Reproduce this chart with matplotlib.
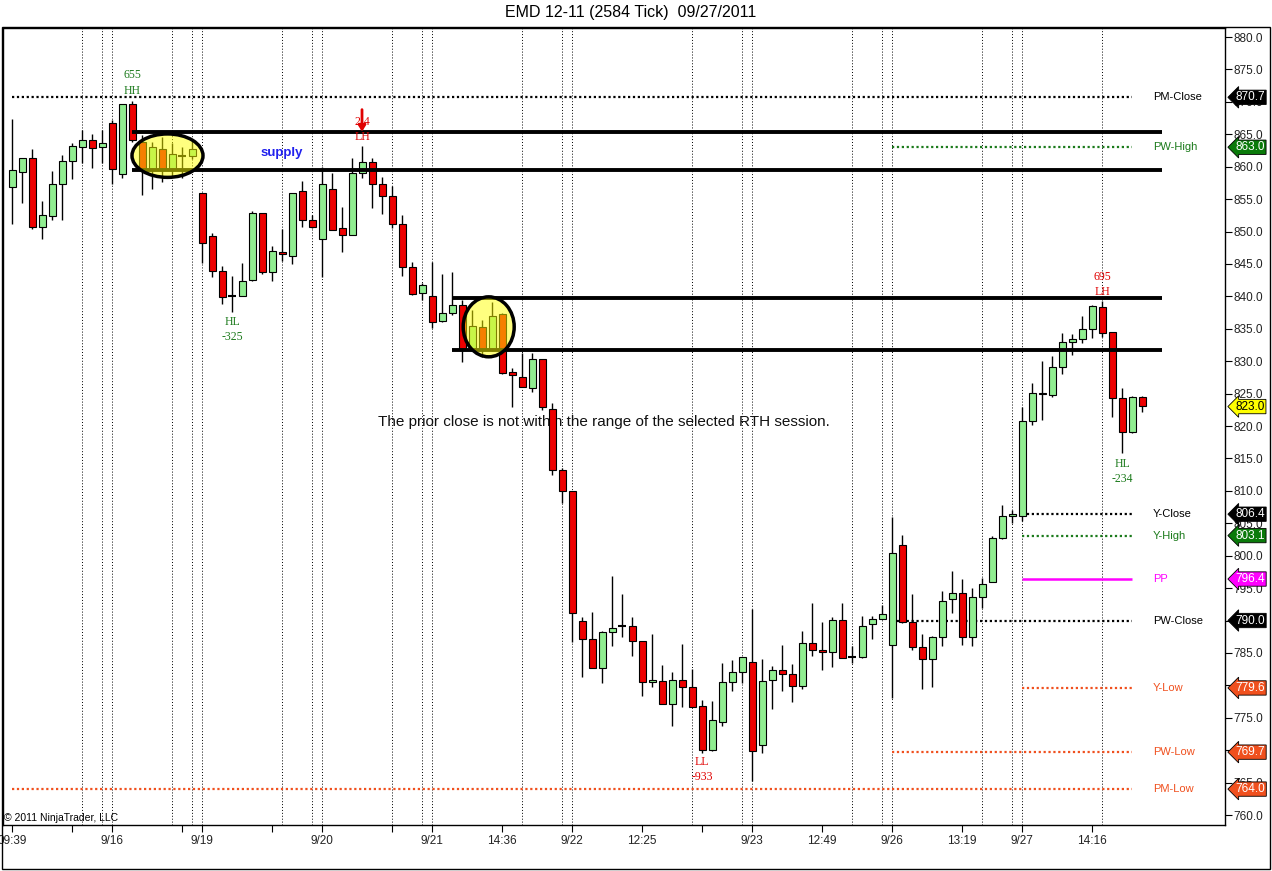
import matplotlib.pyplot as plt
import numpy as np
import matplotlib.transforms as mtransforms
from matplotlib.patches import Ellipse, Rectangle

plt.rcParams['font.family'] = ['Liberation Sans', 'DejaVu Sans']

# OHLC per bar (2584 tick bars, EMD 12-11)
opens = [856.8, 859.2, 861.4, 850.7, 852.4, 857.3, 860.8, 863.1, 864.1, 863.1,
         866.8, 858.8, 869.6, 863.8, 859.5, 862.8, 859.5, 861.6, 861.7, 856.0,
         849.3, 843.9, 840.0, 840.1, 842.5, 852.8, 843.8, 846.8, 846.3, 856.2,
         851.8, 848.8, 856.5, 850.5, 849.4, 859.1, 860.7, 857.4, 855.5, 851.1,
         844.6, 840.5, 840.0, 836.2, 837.4, 838.6, 831.7, 835.3, 831.7, 837.2,
         828.3, 827.5, 825.8, 830.3, 822.7, 813.2, 810.0, 790.0, 787.1, 782.7,
         788.2, 789.0, 789.2, 786.9, 780.5, 780.7, 777.2, 780.9, 779.7, 776.8,
         770.1, 774.4, 780.5, 782.0, 783.6, 770.8, 780.8, 782.3, 781.7, 779.9,
         786.6, 785.4, 785.1, 790.1, 784.2, 784.3, 789.4, 790.3, 786.3, 801.6,
         789.7, 785.9, 784.0, 787.4, 793.3, 794.2, 787.5, 793.7, 796.0, 802.7,
         806.1, 806.1, 820.8, 825.1, 824.8, 829.05, 832.9, 833.4, 834.9, 838.3,
         834.5, 824.3, 819.0, 824.5]
highs = [867.3, 861.3, 862.7, 854.7, 859.3, 861.8, 863.6, 865.6, 865.0, 865.7,
         867.2, 869.6, 870.2, 864.9, 863.8, 864.6, 863.6, 863.0, 864.0, 856.0,
         849.8, 844.7, 843.1, 845.1, 853.1, 852.8, 847.8, 850.4, 856.0, 857.8,
         852.5, 860.0, 859.1, 853.8, 861.3, 863.2, 861.4, 858.4, 857.0, 852.5,
         845.3, 842.0, 845.3, 843.4, 843.7, 839.4, 837.9, 836.3, 839.2, 837.5,
         828.9, 831.2, 831.2, 830.3, 823.5, 813.5, 810.0, 790.5, 791.3, 788.4,
         796.9, 794.1, 790.6, 786.9, 787.9, 783.1, 782.0, 786.4, 782.5, 777.8,
         777.6, 783.4, 783.9, 784.3, 791.7, 784.0, 783.0, 786.2, 783.3, 788.4,
         792.7, 789.7, 790.6, 792.7, 786.1, 790.7, 790.7, 792.4, 806.0, 803.2,
         794.1, 787.9, 787.6, 794.5, 797.6, 796.4, 795.0, 796.6, 803.0, 807.8,
         807.0, 823.0, 826.7, 830.0, 830.8, 834.4, 834.2, 837.0, 838.7, 839.3,
         834.5, 825.8, 824.6, 824.6]
lows = [851.1, 854.4, 850.4, 848.9, 851.7, 851.7, 858.1, 860.5, 859.8, 860.5,
        857.4, 858.3, 863.8, 855.6, 856.6, 857.7, 858.5, 858.2, 861.2, 845.1,
        843.0, 838.8, 837.6, 840.0, 842.3, 843.5, 842.3, 845.4, 845.0, 850.7,
        850.5, 843.0, 850.3, 846.9, 849.4, 858.2, 853.7, 852.7, 850.5, 843.1,
        840.2, 839.4, 835.1, 836.1, 837.1, 829.9, 831.5, 830.7, 831.5, 828.0,
        823.0, 826.0, 825.3, 822.5, 812.4, 808.1, 786.7, 781.3, 782.6, 780.3,
        786.1, 787.5, 784.6, 778.3, 779.8, 777.2, 773.8, 776.7, 776.7, 769.6,
        769.8, 773.7, 779.2, 780.3, 765.2, 769.6, 776.3, 779.2, 777.5, 779.4,
        784.6, 782.3, 782.9, 784.2, 783.4, 784.2, 787.1, 790.3, 778.1, 789.6,
        785.5, 779.5, 779.8, 786.1, 791.1, 786.3, 786.1, 792.0, 795.9, 802.5,
        805.0, 805.4, 820.1, 821.0, 824.5, 828.0, 830.9, 832.8, 833.5, 833.7,
        821.4, 815.8, 818.9, 822.2]
closes = [859.5, 861.3, 850.7, 852.5, 857.4, 860.8, 863.2, 864.1, 862.9, 863.6,
          859.7, 869.6, 864.1, 859.5, 863.0, 859.5, 861.9, 861.7, 862.8, 848.3,
          843.9, 839.9, 840.1, 842.4, 852.8, 843.8, 847.0, 846.5, 856.0, 851.7,
          850.7, 857.3, 850.3, 849.4, 859.1, 860.7, 857.4, 855.5, 851.1, 844.6,
          840.4, 841.7, 836.0, 837.4, 838.6, 831.7, 835.5, 831.7, 836.9, 828.1,
          827.8, 826.0, 830.3, 822.9, 813.2, 809.9, 791.1, 787.1, 782.7, 788.2,
          788.9, 789.1, 786.9, 780.5, 780.8, 777.2, 780.9, 779.7, 776.7, 770.1,
          774.7, 780.5, 782.0, 784.3, 769.8, 780.6, 782.3, 781.8, 779.9, 786.6,
          785.5, 785.1, 790.1, 784.2, 784.3, 789.2, 790.3, 791.0, 800.4, 789.7,
          785.9, 784.0, 787.4, 793.0, 794.2, 787.5, 793.7, 795.7, 802.7, 806.1,
          806.4, 820.8, 825.1, 824.9, 829.05, 832.9, 833.4, 834.9, 838.5, 834.3,
          824.3, 819.0, 824.5, 823.1]

# x axis
tick_bars = [0, 6, 10, 17, 19, 26, 31, 38, 42, 49, 56, 63, 69, 74, 81, 88, 95, 101, 108]
tick_labels = ['09:39', '', '9/16', '', '9/19', '', '9/20', '', '9/21', '14:36', '9/22',
               '12:25', '', '9/23', '12:49', '9/26', '13:19', '9/27', '14:16']
session_bars = [7, 9, 10, 16, 18, 19, 27, 30, 31, 38, 41, 42, 51, 55, 56,
                68, 73, 74, 84, 87, 88, 97, 100, 101, 109]

# pivot levels
level_names = ['PM-Close', 'PW-High', 'Y-Close', 'Y-High', 'PP', 'PW-Close', 'Y-Low', 'PW-Low', 'PM-Low']
level_values = [870.7, 863.0, 806.4, 803.1, 796.4, 790.0, 779.6, 769.7, 764.0]
level_start = [0, 88, 101, 101, 101, 88, 101, 88, 0]
level_colors = ['black', '#1b7a1b', 'black', '#1b7a1b', '#ff00ff', 'black', '#f0501e', '#f0501e', '#f0501e']

# supply / resistance zones (drawn lines)
zone_levels = [865.35, 859.5, 839.7, 831.7]
zone_start = [12, 12, 44, 44]

# swing labels
swing_text = ['655\nHH', '2 4\nLH', 'HL\n-325', 'LL\n-933', '695\nLH', 'HL\n-234']
swing_bar = [12, 35, 22, 69, 109, 111]
swing_price = [872.9, 865.7, 834.9, 767.0, 841.8, 813.0]
swing_color = ['#1b7a1b', '#e00000', '#1b7a1b', '#e00000', '#e00000', '#1b7a1b']

last_price = 823.0

fig = plt.figure(figsize=(12.72, 8.71), dpi=100)
ax = fig.add_axes([3 / 1272, 46 / 871, 1222 / 1272, 797 / 871])

x = np.arange(len(opens))
o = np.array(opens); h = np.array(highs); l = np.array(lows); c = np.array(closes)

# session separators
for b in session_bars:
    ax.axvline(b, color='black', lw=0.7, ls=(0, (1, 2)), zorder=1)

# wicks
ax.vlines(x, l, h, color='black', lw=1, zorder=3)
# bodies
up = c - o > 0.15
dn = o - c > 0.15
doji = ~(up | dn)
ax.bar(x[up], (c - o)[up], bottom=o[up], width=0.7, color='#90ee90', edgecolor='black', lw=0.8, zorder=4)
ax.bar(x[dn], (o - c)[dn], bottom=c[dn], width=0.7, color='#ee0000', edgecolor='black', lw=0.8, zorder=4)
ax.hlines(c[doji], x[doji] - 0.4, x[doji] + 0.4, color='black', lw=1.5, zorder=4)

# zones
for lev, s in zip(zone_levels, zone_start):
    ax.hlines(lev, s, 115, color='black', lw=2.8, zorder=5)

# pivot levels
for name, val, s, col in zip(level_names, level_values, level_start, level_colors):
    if name == 'PP':
        ax.hlines(val, s, 112, color=col, lw=1.8, zorder=2)
    else:
        ax.hlines(val, s, 112, color=col, lw=1.6, ls=(0, (1, 1.2)), zorder=2)
    ax.text(114.1, val, name, color=col, fontsize=8, va='center', ha='left')

# highlighted consolidation ellipses
for (cx, cy, w, hh) in [(15.55, 861.7, 7.1, 6.7), (47.67, 835.3, 5.1, 9.25)]:
    ax.add_patch(Ellipse((cx, cy), w, hh, fc='yellow', alpha=0.5, ec='none', zorder=6))
    ax.add_patch(Ellipse((cx, cy), w, hh, fill=False, ec='black', lw=2.5, zorder=7))

# swing labels
for t, b, p, col in zip(swing_text, swing_bar, swing_price, swing_color):
    ax.text(b, p, t, color=col, fontsize=8.5, family='Liberation Serif', ha='center', va='center',
            linespacing=1.35, zorder=8)
ax.annotate('', xy=(35, 865.4), xytext=(35, 868.8),
            arrowprops=dict(arrowstyle='-|>,head_width=0.22,head_length=0.35', color='#e00000', lw=2,
                            shrinkA=0, shrinkB=0),
            zorder=9)

ax.text(27, 862.1, 'supply', color='#2020ee', fontsize=9.5, fontweight='bold', ha='center', va='center')
ax.text(59.2, 820.6, 'The prior close is not within the range of the selected RTH session.',
        fontsize=11, ha='center', va='center', color='#111111')

ax.set_xlim(-0.9, 121.3)
ax.set_ylim(758.46, 881.39)
ax.set_xticks(tick_bars)
ax.set_xticklabels(tick_labels)
ax.set_yticks(np.arange(760, 881, 5))
ax.yaxis.set_major_formatter(plt.FormatStrFormatter('%.1f'))
ax.yaxis.tick_right()
ax.tick_params(axis='both', direction='out', length=5, labelsize=8.5, colors='black', labelcolor='#222222', pad=2)
ax.tick_params(axis='y', pad=1)
for sp in ax.spines.values():
    sp.set_color('black')
    sp.set_linewidth(1)

# price tags on the right axis
trans = mtransforms.blended_transform_factory(ax.transAxes, ax.transData)
tags = list(zip(level_values, level_colors)) + [(last_price, 'yellow')]
for val, col in tags:
    fc = '#0a7a0a' if col == '#1b7a1b' else col
    tc = 'black' if col == 'yellow' else 'white'
    ax.text(1.0085, val, f'{val:.1f}', transform=trans, fontsize=8.5, color=tc, va='center', ha='left',
            bbox=dict(boxstyle='larrow,pad=0.1', fc=fc, ec='black', lw=0.6), zorder=10, clip_on=False)

fig.text(0.003, (871 - 818) / 871, '\u00a9 2011 NinjaTrader, LLC', fontsize=7.5, va='center', ha='left')
fig.text(631 / 1272, 1 - 13 / 871, 'EMD 12-11 (2584 Tick)  09/27/2011', fontsize=11.5, ha='center', va='center')
fig.add_artist(Rectangle((0.0015, 2 / 871), 0.9968, 842 / 871, transform=fig.transFigure,
                         fill=False, ec='black', lw=1))

fig.savefig('out.png', dpi=100)
